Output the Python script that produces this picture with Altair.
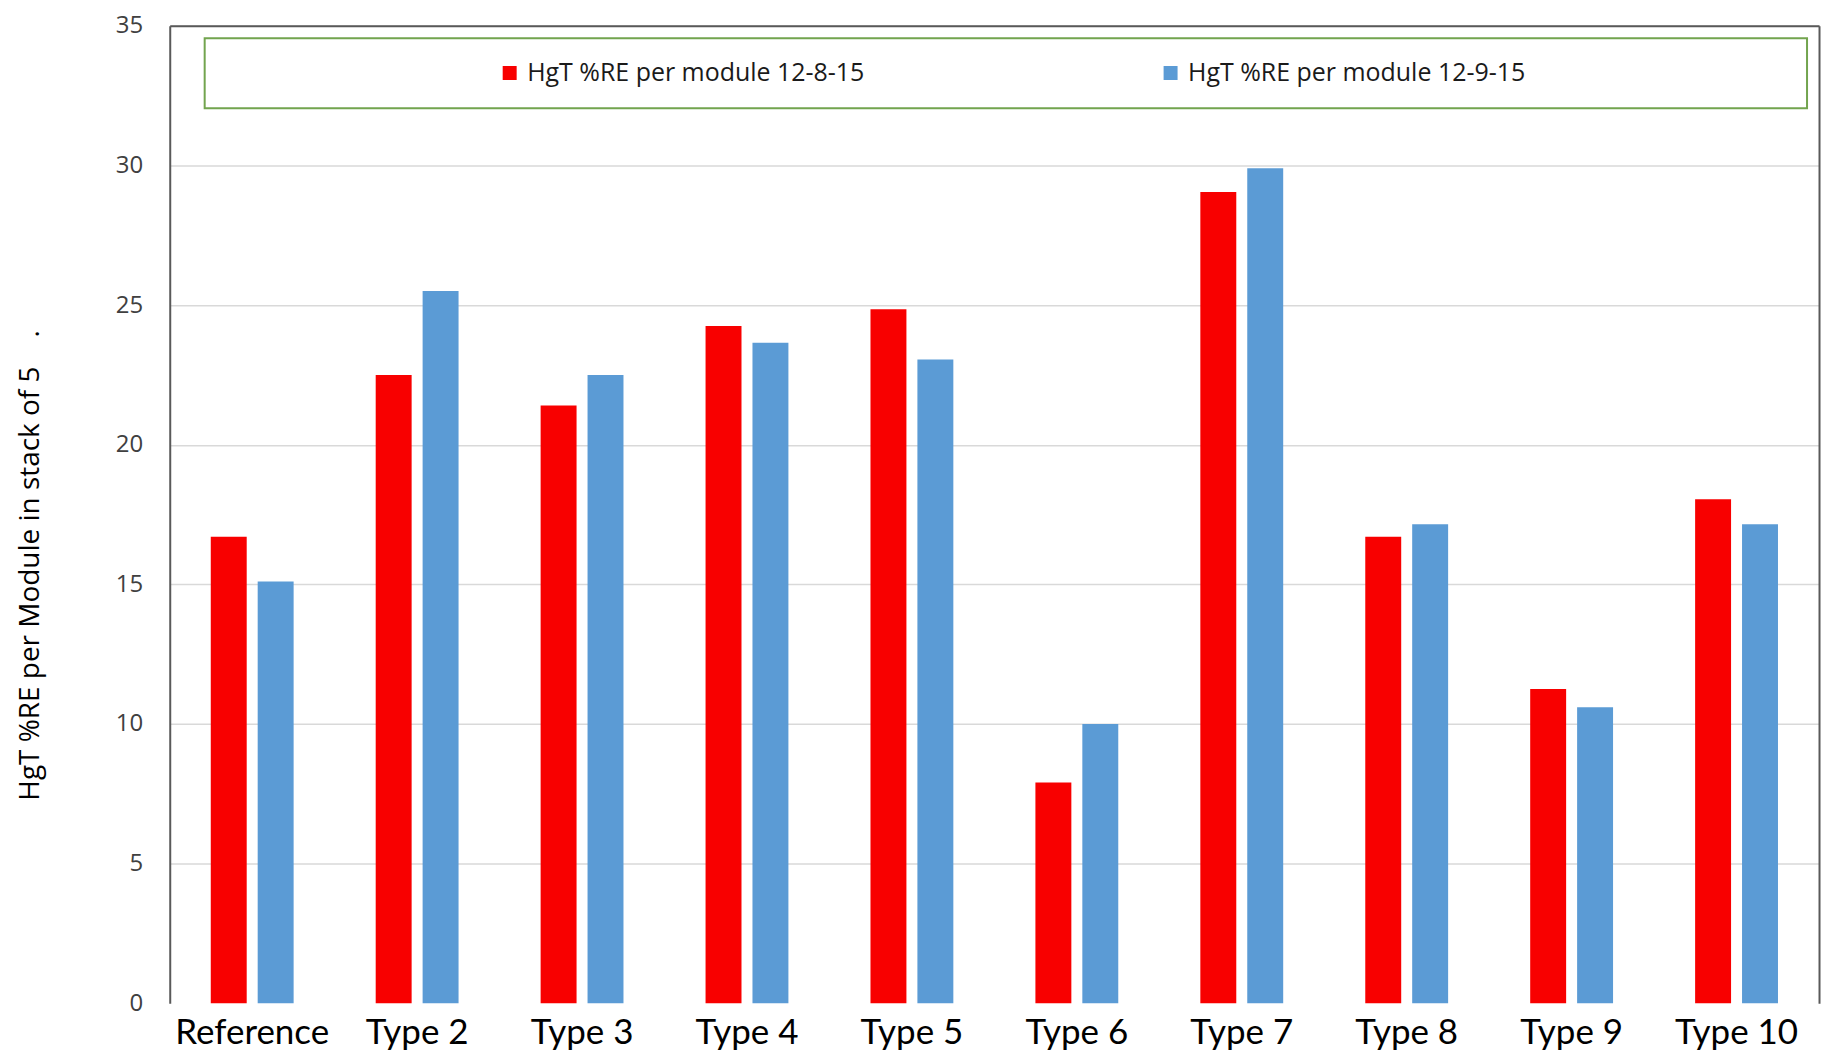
import altair as alt
import pandas as pd

categories = ["Reference", "Type 2", "Type 3", "Type 4", "Type 5",
              "Type 6", "Type 7", "Type 8", "Type 9", "Type 10"]
series_names = ["HgT %RE per module 12-8-15", "HgT %RE per module 12-9-15"]
values_12_8 = [16.7, 22.5, 21.4, 24.25, 24.85, 7.9, 29.05, 16.7, 11.25, 18.05]
values_12_9 = [15.1, 25.5, 22.5, 23.65, 23.05, 10.0, 29.9, 17.15, 10.6, 17.15]
y_ticks = [0, 5, 10, 15, 20, 25, 30, 35]
colors = ["#F80000", "#5B9BD5"]

rows = []
for c, a, b in zip(categories, values_12_8, values_12_9):
    rows.append({"Category": c, "Series": series_names[0], "Value": a})
    rows.append({"Category": c, "Series": series_names[1], "Value": b})
df = pd.DataFrame(rows)

NBSP = "\u00a0"
ZWSP = "\u200b"
y_title = "HgT %RE per Module in stack of 5" + NBSP * 4 + "."

x_scale = alt.Scale(domain=categories, paddingInner=0.4976, paddingOuter=0.2488)
y_scale = alt.Scale(domain=[0, 35], nice=False, zero=True)
off_scale = alt.Scale(domain=series_names, paddingInner=0.234, paddingOuter=0)

bars = alt.Chart(df).mark_bar().encode(
    x=alt.X("Category:N", scale=x_scale, sort=categories, title=None,
            axis=alt.Axis(labelAngle=0, labelFont="Lato", labelFontSize=35,
                          labelColor="#000000", labelPadding=12, ticks=False,
                          domain=False, grid=False)),
    y=alt.Y("Value:Q", scale=y_scale, title=y_title,
            axis=alt.Axis(values=y_ticks, labelFont="Open Sans", labelFontSize=24,
                          labelColor="#404040", labelPadding=27, ticks=False,
                          domain=True, domainColor="#595959", domainWidth=2,
                          grid=True,
                          gridColor=alt.condition(alt.datum.value == 0,
                                                  alt.value("transparent"),
                                                  alt.value("#D9D9D9")),
                          gridWidth=1.5,
                          titleFont="Open Sans", titleFontSize=28,
                          titleFontWeight="normal", titleColor="#000000",
                          titleX=-139, titleY=540, titleAngle=270,
                          titleAlign="center", titleBaseline="middle")),
    xOffset=alt.XOffset("Series:N", scale=off_scale, sort=series_names),
    color=alt.Color("Series:N", scale=alt.Scale(domain=series_names, range=colors),
                    legend=alt.Legend(
                        orient="none", legendX=35, legendY=12.5,
                        direction="horizontal", columns=2,
                        title=NBSP, titleOrient="left", titleFontSize=1,
                        titlePadding=271,
                        strokeColor="#72A44E", padding=22,
                        fillColor="white",
                        symbolType="square", symbolSize=196, symbolStrokeWidth=0,
                        labelFont="Open Sans", labelFontSize=25,
                        labelColor="#1A1A1A", labelOffset=5, labelLimit=3000,
                        labelExpr="datum.label + '" + NBSP * 40 + ZWSP + "'",
                        columnPadding=34)),
)

frame = alt.Chart(df).mark_bar(opacity=0).encode(
    x=alt.X("Category:N", scale=x_scale, sort=categories, title=None,
            axis=alt.Axis(orient="top", labels=False, ticks=False, domain=True,
                          domainColor="#595959", domainWidth=2, grid=False)),
    y=alt.Y("Value:Q", scale=y_scale, title=None,
            axis=alt.Axis(orient="right", labels=False, ticks=False, domain=True,
                          domainColor="#595959", domainWidth=2, grid=False)),
    xOffset=alt.XOffset("Series:N", scale=off_scale, sort=series_names),
)

chart = alt.layer(bars, frame).resolve_axis(
    x="independent", y="independent"
).properties(
    width=1652, height=979,
    padding={"left": 162, "top": 17, "right": 10, "bottom": 50},
    autosize=alt.AutoSizeParams(type="none"),
).configure_view(stroke=None).configure_legend(strokeWidth=2)

chart.save("out.html", embed_options={"renderer": "svg", "actions": False})
